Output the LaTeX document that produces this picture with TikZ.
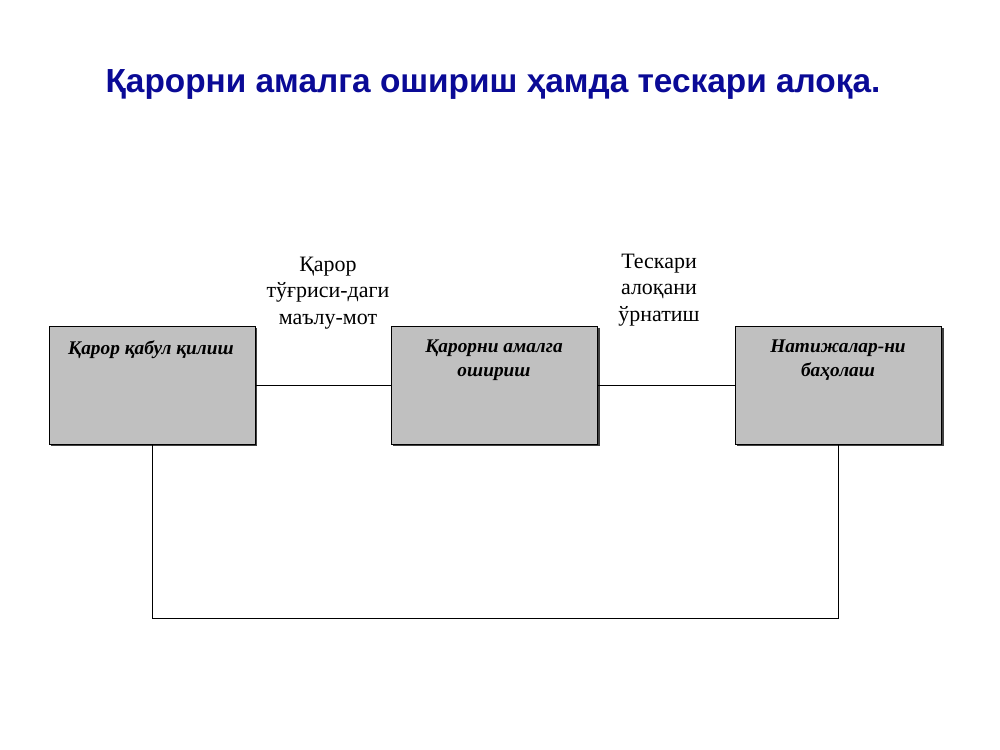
\documentclass[tikz,border=0pt]{standalone}
\usepackage{fontspec}
\setmainfont{Liberation Serif}
\newfontfamily\titlefont{Liberation Sans}
\begin{document}
\begin{tikzpicture}[x=0.02cm,y=-0.02cm,
  blockbox/.style={draw=black,line width=0.6pt,fill=boxgray,
    minimum width=206*0.02cm,minimum height=118*0.02cm,anchor=north west,inner sep=0pt},
  boxtext/.style={font=\fontsize{11}{13.6}\selectfont\bfseries\itshape,align=center,anchor=north},
  lbl/.style={font=\fontsize{12.5}{15}\selectfont,align=center,anchor=north},
  link/.style={draw=black,line width=0.55pt}]
\definecolor{boxgray}{HTML}{C0C0C0}
\definecolor{titleblue}{HTML}{0A0A96}
\useasboundingbox (0,0) rectangle (1000,750);
\node[font=\titlefont\fontsize{19}{23}\selectfont\bfseries,text=titleblue] (title) at (493,84) {Қарорни амалга ошириш ҳамда тескари алоқа.};
% shadows
\fill[black!75] (51,328) rectangle (257,446);
\fill[black!75] (393,328) rectangle (600,446);
\fill[black!75] (737,328) rectangle (944,446);
\node[blockbox] (b1) at (49,326) {};
\node[blockbox] (b2) at (391,326) {};
\node[blockbox] (b3) at (735,326) {};
\node[boxtext] (t1) at (151,334) {Қарор қабул қилиш};
\node[boxtext] (t2) at (494,334) {Қарорни амалга\\ошириш};
\node[boxtext] (t3) at (838,334) {Натижалар-ни\\баҳолаш};
\node[lbl] (l1) at (328,251) {Қарор\\тўғриси-даги\\маълу-мот};
\node[lbl] (l2) at (659,248) {Тескари\\алоқани\\ўрнатиш};
\draw[link] (b1.east |- 0,385) -- (b2.west |- 0,385);
\draw[link] (b2.east |- 0,385) -- (b3.west |- 0,385);
\coordinate (c1) at (152,618);
\coordinate (c2) at (838,618);
\draw[link] (b1.south -| c1) -- (c1) -- (c2) -- (b3.south -| c2);
\end{tikzpicture}
\end{document}
